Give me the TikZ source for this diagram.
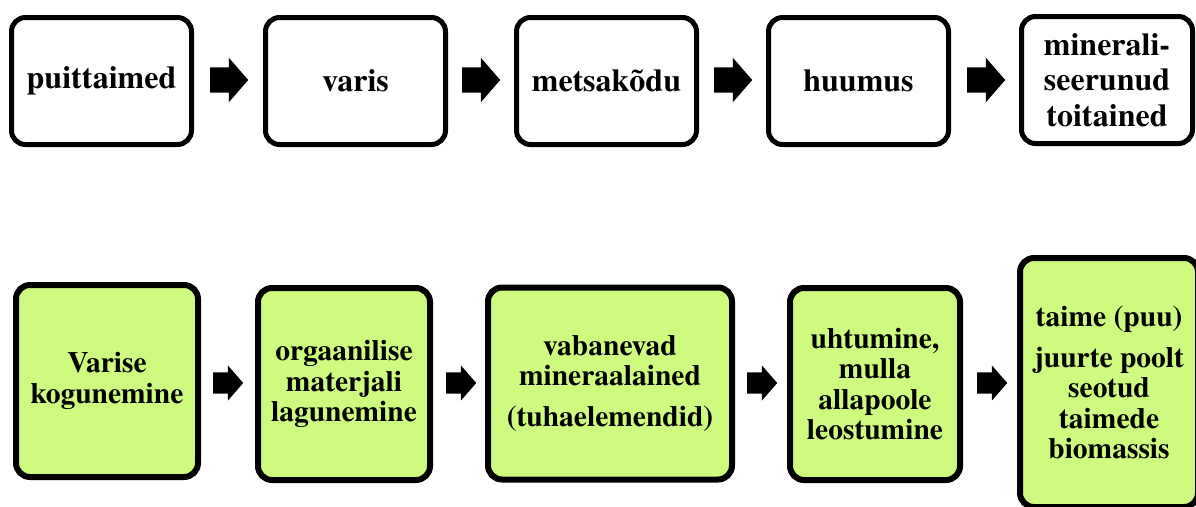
\documentclass[tikz,border=0pt]{standalone}
\usepackage{fontspec}
\setmainfont{texgyretermes}[Extension=.otf, UprightFont=*-regular, BoldFont=*-bold]
\usetikzlibrary{shapes.arrows}
\definecolor{leaf}{HTML}{CFFA80}
\tikzset{
  stage/.style={draw=black, line width=5pt, rounded corners=14pt, fill=white,
    align=center, inner sep=0pt, minimum width=180pt, minimum height=127pt,
    font=\fontsize{32}{35.5}\selectfont\bfseries},
  process/.style={draw=black, line width=6pt, rounded corners=14pt, fill=leaf,
    align=center, inner sep=0pt, minimum height=192pt,
    font=\fontsize{29.5}{30.5}\selectfont\bfseries},
  bigarrow/.style={single arrow, fill=black, inner xsep=0pt, inner ysep=12.5pt, anchor=tail,
    single arrow tip angle=98, single arrow head extend=9.5pt, minimum height=38pt},
  smallarrow/.style={bigarrow, inner ysep=10.5pt, single arrow head extend=7pt, minimum height=30pt}
}
\begin{document}
\begin{tikzpicture}[x=1pt, y=-1pt]
  \useasboundingbox (0,0) rectangle (1196,506);

  % top row
  \node[stage] (puit) at (101.5,81) {puittaimed};
  \node[stage] (varis) at (355.5,81) {varis};
  \node[stage] (kodu) at (606.5,81) {metsakõdu};
  \node[stage] (huumus) at (858.5,81) {huumus};
  \node[stage, minimum width=171pt] (toit) at (1107,80) {minerali-\\seerunud\\toitained};

  \node[bigarrow] (t1) at (210,80) {};
  \node[bigarrow] (t2) at (462,80) {};
  \node[bigarrow] (t3) at (714,80) {};
  \node[bigarrow] (t4) at (967,80) {};

  % bottom row
  \node[process, minimum width=182pt] (kogu) at (107,381) {Varise\\kogunemine};
  \node[process, minimum width=172pt] (lagu) at (344,384) {orgaanilise\\materjali\\lagunemine};
  \node[process, minimum width=244pt] (vaba) at (610,383.5) {vabanevad\\mineraalained\\[10pt](tuhaelemendid)};
  \node[process, minimum width=170pt] (leo) at (875,384) {uhtumine,\\mulla\\allapoole\\leostumine};
  \node[process, minimum width=178pt, minimum height=249pt] (bio) at (1109,382.5) {taime (puu)\\[10pt]juurte poolt\\seotud\\taimede\\biomassis};

  \node[smallarrow] (b1) at (213,383) {};
  \node[smallarrow] (b2) at (446,383) {};
  \node[smallarrow] (b3) at (747,383) {};
  \node[smallarrow] (b4) at (977,383) {};
\end{tikzpicture}
\end{document}
